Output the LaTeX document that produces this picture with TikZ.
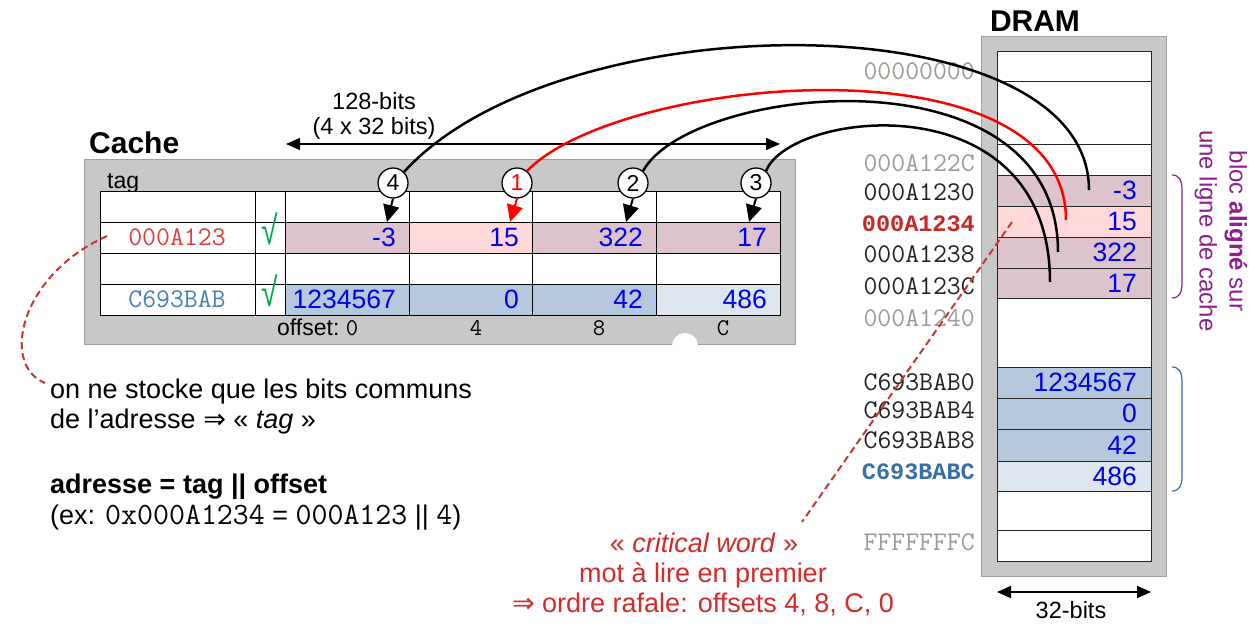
\documentclass[tikz,border=0pt]{standalone}
\usepackage{fontspec}
\setmainfont{Liberation Sans}
\newfontfamily\symfont{DejaVu Sans}
\newfontfamily\bmono{Liberation Mono}
\usetikzlibrary{arrows.meta}
\definecolor{boxgray}{HTML}{C8C8C8}
\definecolor{boxedge}{HTML}{A0A0A0}
\definecolor{mauve}{HTML}{DDC3CC}
\definecolor{pinkc}{HTML}{FFD9D9}
\definecolor{bluec}{HTML}{B5C8DD}
\definecolor{lightc}{HTML}{DDE5EF}
\definecolor{numblue}{HTML}{0000F0}
\definecolor{tagred}{HTML}{E03C3C}
\definecolor{tagblue}{HTML}{4A7EBB}
\definecolor{addrgray}{HTML}{A09A94}
\definecolor{addrdark}{HTML}{222222}
\definecolor{addrred}{HTML}{C62828}
\definecolor{addrblue}{HTML}{3A6EA5}
\definecolor{checkgreen}{HTML}{00A651}
\definecolor{purp}{HTML}{8E1F8E}
\definecolor{critred}{HTML}{D42A2A}
\definecolor{dashred}{HTML}{C83737}
\definecolor{curvered}{HTML}{FF0000}
\newcommand{\myfs}[2]{\fontsize{#1}{#2}\selectfont}
\begin{document}
\begin{tikzpicture}[x=1pt,y=-1pt,
  cell/.style={draw=black, line width=1pt, minimum height=31pt, inner sep=0pt, outer sep=0pt, anchor=north west},
  dcell/.style={draw=black!85, line width=1pt, minimum width=154pt, inner sep=0pt, outer sep=0pt, anchor=north west},
  num/.style={text=numblue, font=\myfs{26.5}{30}, inner sep=0pt, anchor=east},
  addr/.style={font=\ttfamily\myfs{27}{28}, inner sep=0pt, anchor=east},
  baddr/.style={font=\bmono\bfseries\myfs{23.5}{26}, inner sep=0pt, anchor=east},
  circnum/.style={circle, draw=black, line width=1.3pt, fill=white, minimum size=30pt, inner sep=0pt, font=\myfs{23}{24}},
  dnarrow/.style={line width=2pt, -{Triangle[length=17pt,width=16pt]}},
  link/.style={line width=2.5pt},
  dimarrow/.style={line width=1.5pt, {Triangle[length=14pt,width=12pt]}-{Triangle[length=14pt,width=12pt]}},
  lbl/.style={inner sep=0pt},
  bigtext/.style={inner sep=0pt, anchor=base west, font=\myfs{27}{30}},
  redtext/.style={inner sep=0pt, anchor=base, font=\myfs{27}{30}, text=critred},
  reddash/.style={draw=dashred, line width=2pt, dash pattern=on 7pt off 4pt},
  grpbrace/.style={line width=1.2pt},
  graybox/.style={draw=boxedge, fill=boxgray, line width=1pt, inner sep=0pt, outer sep=0pt, anchor=north west},
  chk/.style={inner sep=0pt, text=checkgreen, font=\myfs{40}{40}}
]
\useasboundingbox (0,0) rectangle (1251,626);
\fill[white] (0,0) rectangle (1251,626);

% ---------------- Cache ----------------
\node[lbl, anchor=base west, font=\bfseries\myfs{30}{32}] (cachetitle) at (89,153) {Cache};
\node[graybox, minimum width=711pt, minimum height=185pt] (cachebox) at (84,159) {};
\node[circle, fill=white, minimum size=26pt, inner sep=0pt] (notch) at (685,346) {};
\node[lbl, anchor=base west, font=\myfs{23}{26}] (taglbl) at (107,188) {tag};

\foreach \x/\w/\nm in {100/155/t,255/30/v,285/124/a,409/123/b,532/124/c,656/124/d}
  \foreach \y/\r in {191/0,222/1,253/2,284/3}
    \node[cell, minimum width=\w, fill=white] (g\nm\r) at (\x,\y) {};

\node[cell, minimum width=155, fill=white] (kt1) at (100,222) {};
\node[cell, minimum width=155, fill=white] (kt3) at (100,284) {};
\node[cell, minimum width=30, fill=white] (kv1) at (255,222) {};
\node[cell, minimum width=30, fill=white] (kv3) at (255,284) {};
\node[cell, minimum width=124, fill=mauve] (ka1) at (285,222) {};
\node[cell, minimum width=123, fill=pinkc] (kb1) at (409,222) {};
\node[cell, minimum width=124, fill=mauve] (kc1) at (532,222) {};
\node[cell, minimum width=124, fill=mauve] (kd1) at (656,222) {};
\node[cell, minimum width=124, fill=bluec] (ka3) at (285,284) {};
\node[cell, minimum width=123, fill=bluec] (kb3) at (409,284) {};
\node[cell, minimum width=124, fill=bluec] (kc3) at (532,284) {};
\node[cell, minimum width=124, fill=lightc] (kd3) at (656,284) {};

\node[lbl, font=\ttfamily\myfs{27}{28}, text=tagred] (tag1) at (177,237) {000A123};
\node[lbl, font=\ttfamily\myfs{27}{28}, text=tagblue] (tag3) at (177,299) {C693BAB};
\node[chk] (chk1) at (270,229) {\scalebox{0.75}[1]{√}};
\node[chk] (chk3) at (270,291) {\scalebox{0.75}[1]{√}};

\node[num] (na1) at ([xshift=-13pt]ka1.east) {-3};
\node[num] (nb1) at ([xshift=-13pt]kb1.east) {15};
\node[num] (nc1) at ([xshift=-13pt]kc1.east) {322};
\node[num] (nd1) at ([xshift=-13pt]kd1.east) {17};
\node[num] (na3) at ([xshift=-13pt]ka3.east) {1234567};
\node[num] (nb3) at ([xshift=-13pt]kb3.east) {0};
\node[num] (nc3) at ([xshift=-13pt]kc3.east) {42};
\node[num] (nd3) at ([xshift=-13pt]kd3.east) {486};

\node[lbl, anchor=base west, font=\myfs{23}{26}] (offlbl) at (277,335) {offset:};
\node[lbl, anchor=base, font=\ttfamily\myfs{24}{26}] (off0) at (352,335) {0};
\node[lbl, anchor=base, font=\ttfamily\myfs{24}{26}] (off4) at (476,335) {4};
\node[lbl, anchor=base, font=\ttfamily\myfs{24}{26}] (off8) at (599,335) {8};
\node[lbl, anchor=base, font=\ttfamily\myfs{24}{26}] (offC) at (723,335) {C};

% width arrow
\coordinate (w1) at (286,144);
\coordinate (w2) at (780,144);
\draw[dimarrow] (w1) -- (w2);
\node[lbl, anchor=base, font=\myfs{23.5}{26}] (wl1) at (374,110) {128-bits};
\node[lbl, anchor=base, font=\myfs{23.5}{26}] (wl2) at (374,135) {(4 x 32 bits)};

% ---------------- DRAM ----------------
\node[lbl, anchor=base, font=\bfseries\myfs{30}{32}] (dramtitle) at (1035,32) {DRAM};
\node[graybox, minimum width=185pt, minimum height=539pt] (drambox) at (981,37) {};
\foreach \y/\h/\f/\nm in {52/30/white/1, 82/62/white/2, 144/31/white/3, 175/31/mauve/4, 206/31/pinkc/5, 237/31/mauve/6, 268/30/mauve/7, 298/69/white/8, 367/31/bluec/9, 398/31/bluec/10, 429/32/bluec/11, 461/30/lightc/12, 491/39/white/13, 530/31/white/14}
  \node[dcell, minimum height=\h, fill=\f] (d\nm) at (997,\y) {};

\node[num] (m4) at ([xshift=-14pt]d4.east) {-3};
\node[num] (m5) at ([xshift=-14pt]d5.east) {15};
\node[num] (m6) at ([xshift=-14pt]d6.east) {322};
\node[num] (m7) at ([xshift=-14pt]d7.east) {17};
\node[num] (m9) at ([xshift=-14pt]d9.east) {1234567};
\node[num] (m10) at ([xshift=-14pt]d10.east) {0};
\node[num] (m11) at ([xshift=-14pt]d11.east) {42};
\node[num] (m12) at ([xshift=-14pt]d12.east) {486};

\node[addr, text=addrgray] (a1) at (975,71) {00000000};
\node[addr, text=addrgray] (a2) at (975,163) {000A122C};
\node[addr, text=addrdark] (a3) at (975,192) {000A1230};
\node[baddr, text=addrred] (a4) at (975,224) {000A1234};
\node[addr, text=addrdark] (a5) at (975,254) {000A1238};
\node[addr, text=addrdark] (a6) at (975,286) {000A123C};
\node[addr, text=addrgray] (a7) at (975,318) {000A1240};
\node[addr, text=addrdark] (a8) at (975,382) {C693BAB0};
\node[addr, text=addrdark] (a9) at (975,410) {C693BAB4};
\node[addr, text=addrdark] (a10) at (975,440) {C693BAB8};
\node[baddr, text=addrblue] (a11) at (975,472) {C693BABC};
\node[addr, text=addrgray] (a12) at (975,542) {FFFFFFFC};

% brackets and side text
\draw[grpbrace, purp] (1172,175) .. controls (1179,175) and (1182,180) .. (1182,190) -- (1182,283) .. controls (1182,293) and (1179,298) .. (1172,298);
\draw[grpbrace, addrblue] (1172,367) .. controls (1179,367) and (1182,372) .. (1182,382) -- (1182,476) .. controls (1182,486) and (1179,491) .. (1172,491);
\node[lbl, rotate=-90, text=purp, font=\myfs{24}{30}, align=center] (bloc) at (1221,231) {bloc \textbf{aligné} sur\\une ligne de cache};

% 32-bits
\coordinate (b1) at (997,592);
\coordinate (b2) at (1151,592);
\draw[dimarrow] (b1) -- (b2);
\node[lbl, anchor=base, font=\myfs{23.5}{26}] (bl) at (1071,618) {32-bits};

% ---------------- circles, arrows, curves ----------------
\node[circnum] (c4) at (393,183) {4};
\node[circnum, text=curvered] (c1) at (517,183) {1};
\node[circnum] (c2) at (633,183) {2};
\node[circnum] (c3) at (756,183) {3};
\coordinate (t4) at (387,222);
\coordinate (t1) at (510,222);
\coordinate (t2) at (626,222);
\coordinate (t3) at (749,222);
\draw[dnarrow] (c4.south) -- (t4);
\draw[dnarrow, curvered] (c1.south) -- (t1);
\draw[dnarrow] (c2.south) -- (t2);
\draw[dnarrow] (c3.south) -- (t3);

\coordinate (e4) at (1089,190);
\coordinate (e1) at (1066,220);
\coordinate (e2) at (1058,252);
\coordinate (e3) at (1050,282);
\draw[link] (c4.45) .. controls (560,0) and (1089,0) .. (e4);
\draw[link, curvered] (c1.50) .. controls (620,75) and (1066,35) .. (e1);
\draw[link] (c2.50) .. controls (690,85) and (1058,45) .. (e2);
\draw[link] (c3.50) .. controls (790,110) and (1050,80) .. (e3);

% ---------------- texts ----------------
\node[bigtext] (txt1) at (50,398) {on ne stocke que les bits communs};
\node[bigtext] (txt2) at (50,428) {de l’adresse {\symfont ⇒} « \textit{tag} »};
\node[bigtext, font=\bfseries\myfs{27}{30}] (txt3) at (50,493) {adresse = tag || offset};
\node[bigtext] (txt4) at (50,524) {(ex: {\ttfamily\myfs{31}{30}0x000A1234} = {\ttfamily\myfs{31}{30}000A123} || {\ttfamily\myfs{31}{30}4})};

\node[redtext] (cw1) at (704,552) {« \textit{critical word} »};
\node[redtext] (cw2) at (703,582) {mot à lire en premier};
\node[redtext] (cw3) at (703,612) {{\symfont ⇒} ordre rafale: offsets 4, 8, C, 0};

% dashed connectors
\coordinate (tagstart) at (107,236);
\coordinate (txtstart) at (45,383);
\draw[reddash] (tagstart) .. controls (20,275) and (0,365) .. (txtstart);
\coordinate (crit) at (1012,222);
\coordinate (cwend) at (802,522);
\draw[reddash] (crit) -- (cwend);
\end{tikzpicture}
\end{document}
